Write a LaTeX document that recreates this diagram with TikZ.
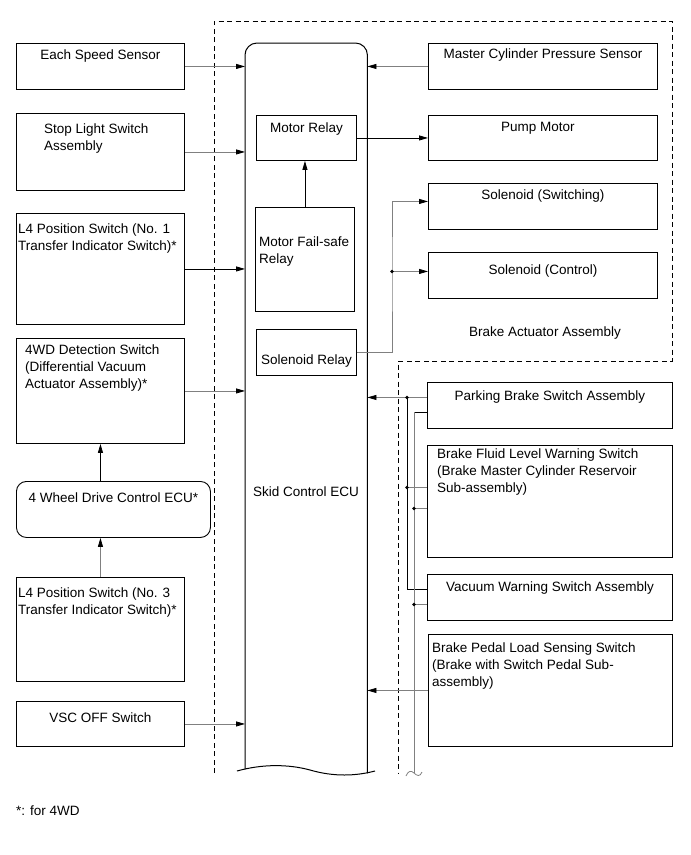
\documentclass[tikz,border=0pt]{standalone}
\usepackage{fontspec}
\setmainfont{Liberation Sans}
\usetikzlibrary{arrows.meta,positioning}

\begin{document}
\begin{tikzpicture}[x=1pt,y=-1pt,
                    >={Triangle[length=9pt,width=5pt,color=black]},
                    box/.style={draw,line width=0.9pt,inner sep=0pt,anchor=north west},
                    txt/.style={inner sep=0pt,font=\fontsize{13.5}{16.7}\selectfont},
                    ltxt/.style={txt,align=left,anchor=north west},
                    wire/.style={black!50,line width=0.8pt},
                    line/.style={black,line width=0.8pt},
                    zone/.style={line width=0.9pt,dash pattern=on 5pt off 3.5pt}]
  \useasboundingbox (0,0) rectangle (691,855);

  % brake actuator zone
  \draw[zone] (214,773) -- (214,21) -- (672,21) -- (672,361) -- (398,361) -- (398,773);

  % skid control ECU
  \node[inner sep=0pt,minimum width=122pt,minimum height=730pt,anchor=north west] (ecu) at (245,43) {};
  \draw[line width=1pt,rounded corners=12pt] ([yshift=4pt]ecu.south west) -- (ecu.north west)
        -- (ecu.north east) -- (ecu.south east);
  \draw[line width=1pt] (237,771) .. controls (262,764) and (288,764) .. (310,770)
        .. controls (334,777) and (356,776) .. (375,771);
  \node[txt] (ecutxt) at (306,492) {Skid Control ECU};

  % left side
  \node[box,minimum width=168pt,minimum height=46pt]  (speed) at (16,43)  {};
  \node[box,minimum width=168pt,minimum height=77pt]  (stop)  at (16,113) {};
  \node[box,minimum width=168pt,minimum height=111pt] (l4a)   at (16,213) {};
  \node[box,minimum width=168pt,minimum height=105pt] (det)   at (16,338) {};
  \node[box,minimum width=194pt,minimum height=56pt,rounded corners=10pt] (fwd) at (16,481) {};
  \node[box,minimum width=168pt,minimum height=104pt] (l4b)   at (16,577) {};
  \node[box,minimum width=168pt,minimum height=45pt]  (vsc)   at (16,701) {};

  \node[txt,below=7pt of speed.north] {Each Speed Sensor};
  \node[ltxt,below right=11pt and 28pt of stop.north west] {Stop Light Switch\\Assembly};
  \node[ltxt,below right=11pt and 2pt of l4a.north west] {L4 Position Switch (No. 1\\Transfer Indicator Switch)*};
  \node[ltxt,below right=7pt and 9pt of det.north west] {4WD Detection Switch\\(Differential Vacuum\\Actuator Assembly)*};
  \node[txt,below=12pt of fwd.north] {4 Wheel Drive Control ECU*};
  \node[ltxt,below right=11pt and 2pt of l4b.north west] {L4 Position Switch (No. 3\\Transfer Indicator Switch)*};
  \node[txt,below=12pt of vsc.north] {VSC OFF Switch};

  % inside the ECU
  \node[box,minimum width=100pt,minimum height=45pt]  (mr)  at (256,115) {};
  \node[box,minimum width=99pt,minimum height=104pt]  (fsr) at (255,207) {};
  \node[box,minimum width=100pt,minimum height=46pt]  (sr)  at (256,329) {};

  \node[txt,below=8pt of mr.north] {Motor Relay};
  \node[ltxt,below right=30pt and 4pt of fsr.north west] {Motor Fail-safe\\Relay};
  \node[txt,below=26pt of sr.north] {Solenoid Relay};

  % brake actuator assembly
  \node[box,minimum width=229pt,minimum height=46pt] (mc)     at (428,43)  {};
  \node[box,minimum width=229pt,minimum height=45pt] (pump)   at (428,115) {};
  \node[box,minimum width=229pt,minimum height=46pt] (solsw)  at (428,183) {};
  \node[box,minimum width=229pt,minimum height=46pt] (solctl) at (428,252) {};

  \node[txt,below=6pt of mc.north] {Master Cylinder Pressure Sensor};
  \node[txt,below=7pt of pump.north,xshift=-5pt] {Pump Motor};
  \node[txt,below=7pt of solsw.north] {Solenoid (Switching)};
  \node[txt,below=13pt of solctl.north] {Solenoid (Control)};
  \node[txt] (bact) at (545,333) {Brake Actuator Assembly};

  % right side
  \node[box,minimum width=245pt,minimum height=46pt]  (park)  at (427,382) {};
  \node[box,minimum width=245pt,minimum height=112pt] (fluid) at (427,445) {};
  \node[box,minimum width=245pt,minimum height=46pt]  (vac)   at (427,574) {};
  \node[box,minimum width=244pt,minimum height=112pt] (pedal) at (428,634) {};

  \node[txt,below=9pt of park.north] {Parking Brake Switch Assembly};
  \node[ltxt,below right=4pt and 10pt of fluid.north west] {Brake Fluid Level Warning Switch\\(Brake Master Cylinder Reservoir\\Sub-assembly)};
  \node[txt,below=8pt of vac.north] {Vacuum Warning Switch Assembly};
  \node[ltxt,below right=9pt and 4pt of pedal.north west] {Brake Pedal Load Sensing Switch\\(Brake with Switch Pedal Sub-\\assembly)};

  \node[ltxt] (note) at (16,806) {*: for 4WD};

  % inputs to the ECU
  \draw[wire,->] (speed.east) -- (speed.east -| ecu.west);
  \draw[wire,->] (stop.east) -- (stop.east -| ecu.west);
  \draw[line,->] (l4a.east) -- (l4a.east -| ecu.west);
  \draw[wire,->] (det.east) -- (det.east -| ecu.west);
  \draw[wire,->] (vsc.east) -- (vsc.east -| ecu.west);
  \draw[line,->] (det.south |- fwd.north) -- (det.south);
  \draw[wire,->] (det.south |- l4b.north) -- (det.south |- fwd.south);
  \draw[wire,->] (mc.west) -- (mc.west -| ecu.east);

  % outputs of the ECU
  \draw[line,->] (mr.east) -- (mr.east -| pump.west);
  \draw[line,->] (fsr.north) -- (fsr.north |- mr.south);
  \coordinate (jx) at (392,0);
  \coordinate (sw) at ([yshift=5pt]solsw.west);
  \coordinate (sc) at ([yshift=4pt]solctl.west);
  \draw[wire,->] (sr.east) -| (sc -| jx) |- (sw);
  \draw[wire,->] (sc -| jx) -- (sc);
  \fill (sc -| jx) circle (1.8pt);

  % switch bus
  \coordinate (busA) at (407,0);
  \coordinate (busB) at (414,0);
  \coordinate (busend) at (414,773);
  \coordinate (pkA) at ([yshift=8pt]park.west);
  \coordinate (pkB) at ([yshift=-7pt]park.west);
  \coordinate (flA) at ([yshift=14pt]fluid.west);
  \coordinate (flB) at ([yshift=-7pt]fluid.west);
  \coordinate (vaA) at ([yshift=8pt]vac.west);
  \coordinate (vaB) at ([yshift=-7pt]vac.west);

  \draw[wire,->] (pkA) -- (pkA -| ecu.east);
  \draw[line] (pkA -| busA) |- (vaA);
  \draw[wire] (flA -| busA) -- (flA);
  \draw[line] (pkB) -- (pkB -| busB);
  \draw[wire] (pkB -| busB) -- (busend);
  \draw[wire] (flB -| busB) -- (flB);
  \draw[wire] (vaB -| busB) -- (vaB);
  \draw[wire,->] (pedal.west) -- (pedal.west -| ecu.east);
  \draw[wire] (406,776) .. controls (408,771) and (411,770) .. (busend)
        .. controls (417,776) and (420,777) .. (422,772);
  \fill (pkA -| busA) circle (1.8pt);
  \fill (flA -| busA) circle (1.8pt);
  \fill (flB -| busB) circle (1.8pt);
  \fill (vaB -| busB) circle (1.8pt);
\end{tikzpicture}
\end{document}
